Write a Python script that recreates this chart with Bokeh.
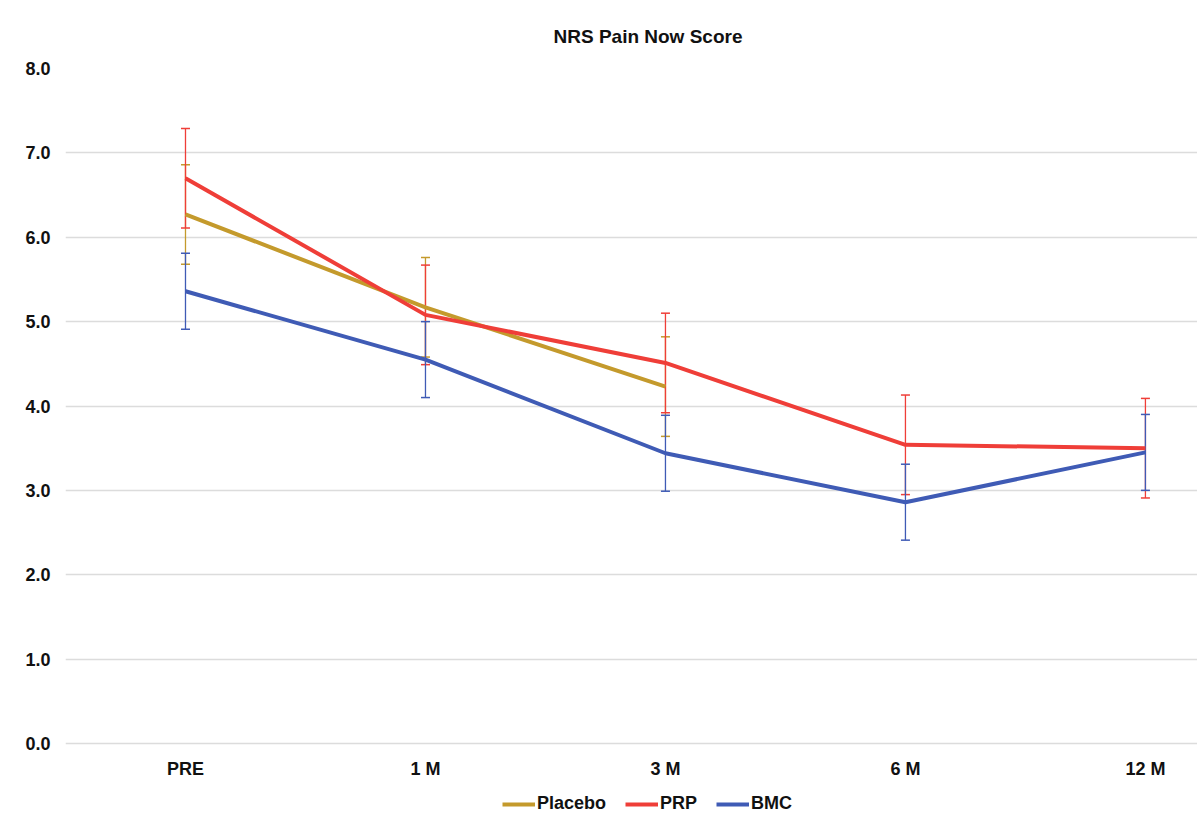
from bokeh.plotting import figure
from bokeh.models import FixedTicker, NumeralTickFormatter, Legend, LegendItem
from bokeh.embed import file_html
from bokeh.resources import INLINE
from bokeh.core.properties import value

categories = ["PRE", "1 M", "3 M", "6 M", "12 M"]

placebo_mean = [6.27, 5.17, 4.23]
placebo_sd = [0.59, 0.59, 0.59]
prp_mean = [6.70, 5.08, 4.51, 3.54, 3.50]
prp_sd = [0.59, 0.59, 0.59, 0.59, 0.59]
bmc_mean = [5.36, 4.55, 3.44, 2.86, 3.45]
bmc_sd = [0.45, 0.45, 0.45, 0.45, 0.45]

colors = {"Placebo": "#c49a2c", "PRP": "#ef3e38", "BMC": "#3f5bb5"}
series = [("Placebo", placebo_mean, placebo_sd),
          ("PRP", prp_mean, prp_sd),
          ("BMC", bmc_mean, bmc_sd)]

FONT = "Liberation Sans"

p = figure(frame_width=1132, frame_height=749, output_backend="svg",
           toolbar_location=None,
           x_range=(-0.5, 4.217), y_range=(-0.877, 8),
           min_border_left=65, min_border_right=0, min_border_top=68,
           min_border_bottom=0)
p.outline_line_color = None
p.background_fill_color = "white"
p.border_fill_color = "white"

p.title.text = "NRS Pain Now Score"
p.title.align = "left"
p.title.offset = 488
p.title.standoff = 44
p.title.text_font = FONT
p.title.text_font_size = "19px"
p.title.text_font_style = "bold"
p.title.text_color = "#111111"

# error bars
for name, m, s in series:
    xs = list(range(len(m)))
    lo = [a - b for a, b in zip(m, s)]
    hi = [a + b for a, b in zip(m, s)]
    p.segment(x0=xs, y0=lo, x1=xs, y1=hi, line_color=colors[name], line_width=1.3)
    p.scatter(x=xs + xs, y=lo + hi, marker="dash", size=9, line_color=colors[name],
              line_width=1.5)

items = []
for name, m, s in series:
    xs = list(range(len(m)))
    r = p.line(xs, m, line_color=colors[name], line_width=4)
    items.append(LegendItem(label=name, renderers=[r]))

# category labels under the zero line
p.text(x=list(range(len(categories))), y=[0] * len(categories), text=categories,
       y_offset=25, text_align="center", text_baseline="middle",
       text_font=value(FONT), text_font_size="18px", text_font_style="bold",
       text_color="#111111")

legend = Legend(items=items, orientation="horizontal", location=(437, 3),
                label_text_font=FONT, label_text_font_size="18px",
                label_text_font_style="bold", label_text_color="#111111",
                glyph_width=33, glyph_height=18, label_height=18,
                label_standoff=2, spacing=19,
                padding=0, margin=0, border_line_color=None,
                background_fill_alpha=0)
p.add_layout(legend, "center")

p.yaxis.ticker = FixedTicker(ticks=[0, 1, 2, 3, 4, 5, 6, 7, 8])
p.yaxis.formatter = NumeralTickFormatter(format="0.0")
p.yaxis.axis_line_color = None
p.yaxis.major_tick_line_color = None
p.yaxis.minor_tick_line_color = None
p.yaxis.major_tick_out = 0
p.yaxis.major_tick_in = 0
p.yaxis.major_label_text_font = FONT
p.yaxis.major_label_text_font_size = "18px"
p.yaxis.major_label_text_font_style = "bold"
p.yaxis.major_label_text_color = "#111111"
p.yaxis.major_label_standoff = 15
p.xaxis.visible = False

p.xgrid.grid_line_color = None
p.ygrid.grid_line_color = "#dcdcdc"
p.ygrid.grid_line_width = 1.3

open("out.html", "w").write(file_html(p, INLINE))
